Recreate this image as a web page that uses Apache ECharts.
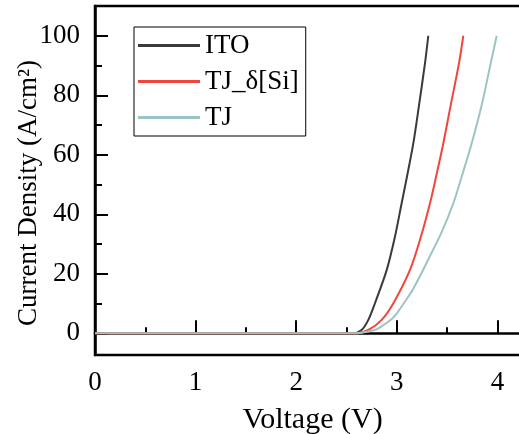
<!DOCTYPE html>
<html>
<head>
<meta charset="utf-8">
<script src="https://cdn.jsdelivr.net/npm/echarts@6/dist/echarts.min.js"></script>
<style>
  html, body { margin: 0; padding: 0; background: #fff; }
  #main { width: 519px; height: 434px; }
</style>
</head>
<body>
<div id="main"></div>
<script>
// J-V curves
const seriesNames = ['ITO', 'TJ_δ[Si]', 'TJ'];
const itoV = [0, 2.56, 2.65, 2.717, 2.783, 2.90, 2.982, 3.048, 3.098, 3.164, 3.221, 3.28, 3.313];
const itoJ = [0, 0, 1.1, 4.5, 10.1, 21.3, 32.5, 43.7, 52.1, 63.8, 76.7, 90.7, 100];
const tjSiV = [0, 2.6, 2.717, 2.85, 2.966, 3.131, 3.24, 3.33, 3.387, 3.462, 3.536, 3.618, 3.661];
const tjSiJ = [0, 0, 1.1, 4.5, 10.1, 21.3, 32.5, 43.7, 52.1, 63.8, 76.7, 90.7, 100];
const tjV = [0, 2.55, 2.65, 2.78, 2.833, 2.95, 3.0, 3.098, 3.164, 3.25, 3.33, 3.446, 3.562, 3.64, 3.744, 3.844, 3.933, 3.993];
const tjJ = [0, 0, 0.2, 1.1, 2.0, 4.8, 6.7, 11.5, 15.0, 20.5, 26.0, 34.0, 43.7, 52.1, 63.8, 76.7, 90.7, 100];

const xTicks = [0, 1, 2, 3, 4];
const xMinorTicks = [0.5, 1.5, 2.5, 3.5];
const yTicks = [0, 20, 40, 60, 80, 100];
const yMinorTicks = [10, 30, 50, 70, 90];

const colors = ['#3a3a3a', '#f2453b', '#9dc4c2'];
const font = '"Liberation Serif", "Times New Roman", serif';

function pairs(xs, ys) {
    return xs.map((x, i) => [x, ys[i]]);
}

const chart = echarts.init(document.getElementById('main'), null, { renderer: 'canvas' });

const lineSeries = (i, xs, ys) => ({
    name: seriesNames[i],
    type: 'line',
    symbol: 'none',
    smooth: 0.3,
    lineStyle: { width: 2, color: colors[i] },
    data: pairs(xs, ys)
});

const option = {
    backgroundColor: '#fff',
    animation: false,
    color: colors,
    grid: {
        left: 95,
        top: 6,
        width: 435,
        height: 349,
        outerBoundsMode: 'none',
        containLabel: false,
        show: true,
        borderColor: '#000',
        borderWidth: 2.5
    },
    legend: {
        orient: 'vertical',
        left: 134,
        top: 27,
        padding: [5, 7, 5, 4],
        itemGap: 9,
        itemWidth: 62,
        itemHeight: 3,
        icon: 'rect',
        borderColor: '#000',
        borderWidth: 1,
        data: seriesNames,
        textStyle: {
            fontFamily: font,
            fontSize: 27,
            lineHeight: 27,
            color: '#000'
        }
    },
    xAxis: [{
        type: 'value',
        min: 0,
        max: 4.324,
        name: 'Voltage (V)',
        nameLocation: 'middle',
        nameGap: 50,
        nameMoveOverlap: false,
        nameTextStyle: { fontFamily: font, fontSize: 30, color: '#000' },
        axisLine: { show: true, lineStyle: { color: '#000', width: 2.5 } },
        axisTick: { inside: true, length: 13, lineStyle: { color: '#000', width: 2 }, customValues: xTicks },
        axisLabel: { fontFamily: font, fontSize: 27, color: '#000', margin: 14, customValues: xTicks },
        splitLine: { show: false }
    }, {
        type: 'value',
        position: 'bottom',
        min: 0,
        max: 4.324,
        axisLine: { show: false },
        axisTick: { inside: true, length: 6, lineStyle: { color: '#000', width: 2 }, customValues: xMinorTicks },
        axisLabel: { show: false },
        splitLine: { show: false }
    }],
    yAxis: [{
        type: 'value',
        min: -7.3,
        max: 110,
        name: 'Current Density (A/cm²)',
        nameLocation: 'middle',
        nameGap: 53,
        nameMoveOverlap: false,
        nameTextStyle: { fontFamily: font, fontSize: 27, color: '#000', padding: [0, 25, 0, 0] },
        axisLine: { show: true, lineStyle: { color: '#000', width: 2.5 } },
        axisTick: { inside: true, length: 13, lineStyle: { color: '#000', width: 2 }, customValues: yTicks },
        axisLabel: { fontFamily: font, fontSize: 27, color: '#000', margin: 15, customValues: yTicks },
        splitLine: { show: false }
    }, {
        type: 'value',
        position: 'left',
        min: -7.3,
        max: 110,
        axisLine: { show: false },
        axisTick: { show: true, inside: true, length: 7, lineStyle: { color: '#000', width: 2 }, customValues: yMinorTicks },
        axisLabel: { show: false },
        splitLine: { show: false }
    }],
    series: [
        lineSeries(0, itoV, itoJ),
        lineSeries(1, tjSiV, tjSiJ),
        lineSeries(2, tjV, tjJ)
    ]
};

chart.setOption(option);
</script>
</body>
</html>
